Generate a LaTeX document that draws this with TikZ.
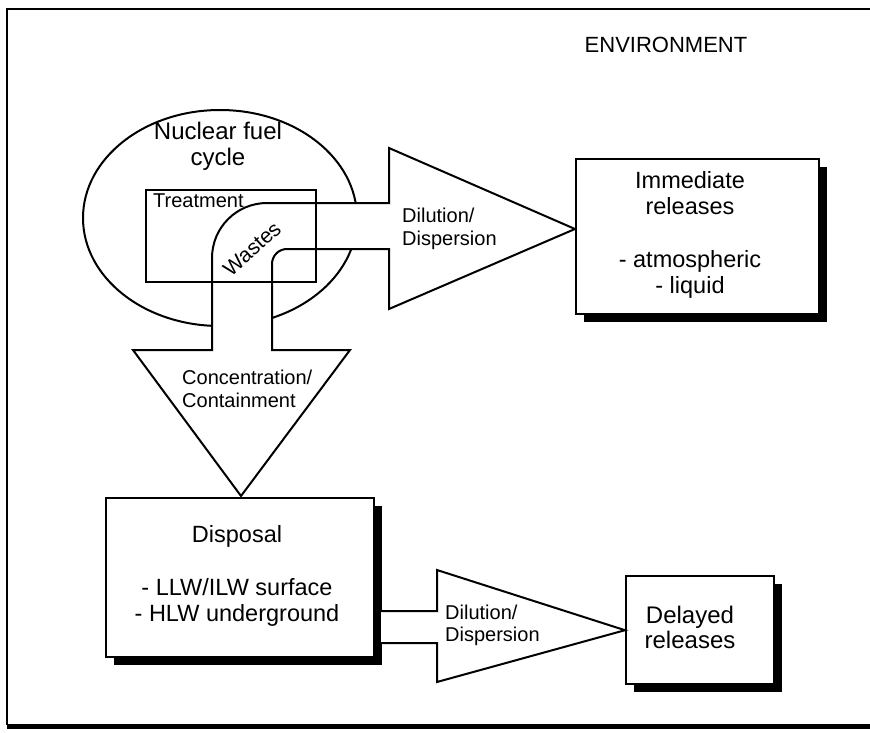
\documentclass[tikz,border=0pt]{standalone}
\usepackage{fontspec}
\setmainfont{Liberation Sans}
\usetikzlibrary{shadows,shapes.geometric}
\begin{document}
\begin{tikzpicture}[x=1pt,y=-1pt, line join=miter,
  boxline/.style={draw=black, line width=2.4pt, fill=white, inner sep=0pt,
    general shadow={fill=black, shadow xshift=8pt, shadow yshift=-8pt}},
  shapeline/.style={draw=black, line width=2pt, fill=white},
  thinbox/.style={draw=black, line width=2pt, inner sep=0pt},
  big/.style={font=\fontsize{23.5}{26}\selectfont, inner sep=0pt, align=center},
  mid/.style={font=\fontsize{20}{23}\selectfont, inner sep=0pt, align=left},
  envlbl/.style={font=\fontsize{22}{24}\selectfont, inner sep=0pt}]
\useasboundingbox (0,0) rectangle (870,733);
\fill[white] (0,0) rectangle (870,733);
% outer frame
\draw[line width=2.8pt] (872,9) -- (7,9) -- (7,725);
\draw[line width=5pt] (7,726) -- (872,726);
\node[envlbl] (env) at (666,45) {ENVIRONMENT};
% nuclear fuel cycle
\node[draw, line width=2pt, ellipse, minimum width=274pt, minimum height=216pt, inner sep=0pt] (cycle) at (220,218) {};
\node[font=\fontsize{24}{25}\selectfont, inner sep=0pt, anchor=base] (nfc1) at (218,140) {Nuclear fuel};
\node[font=\fontsize{24}{25}\selectfont, inner sep=0pt, anchor=base] (nfc2) at (218,165) {cycle};
% pipe with the two arrow heads
\draw[shapeline] (389,203) -- (389,148) -- (575,229) -- (389,309) -- (389,249)
  -- (287,249) .. controls (278.7,249) and (272,255.7) .. (272,264)
  -- (272,350) -- (350,350) -- (241,496) -- (133,350) -- (212,350)
  -- (212,258) .. controls (212,227.6) and (236.6,203) .. (267,203) -- cycle;
\node[thinbox, minimum width=170pt, minimum height=92pt, anchor=north west] (treat) at (145,189) {};
\node[font=\fontsize{20}{24}\selectfont, inner sep=0pt, anchor=west] (treattxt) at (153,201) {Treatment};
\node[font=\fontsize{21}{24}\selectfont, inner sep=0pt, rotate=42] (wastes) at (252,249) {Wastes};
\node[mid, anchor=west] (dil1) at (402,229) {Dilution/\\Dispersion};
\node[mid, anchor=west] (conc) at (182,389) {Concentration/\\Containment};
% immediate releases
\node[boxline, minimum width=243pt, minimum height=155pt, anchor=north west] (imm) at (575,158) {};
\node[big] (immtxt) at (690,235) {Immediate\\releases\\[27pt]- atmospheric\\- liquid};
% disposal
\node[boxline, minimum width=268pt, minimum height=159pt, anchor=north west] (disp) at (105,497) {};
\node[big] (disptxt) at (237,576) {Disposal\\[27pt]- LLW/ILW surface\\- HLW underground};
% delayed releases
\node[boxline, minimum width=148pt, minimum height=108pt, anchor=north west] (del) at (625,575) {};
\node[big, font=\fontsize{24}{25}\selectfont] (deltxt) at (690,627) {Delayed\\releases};
% bottom arrow
\draw[shapeline] (381,611) -- (437,611) -- (437,570) -- (del.west) -- (437,682) -- (437,643) -- (381,643);
\node[mid, font=\fontsize{20}{22}\selectfont, anchor=west] (dil2) at (445,625) {Dilution/\\Dispersion};
\end{tikzpicture}
\end{document}
